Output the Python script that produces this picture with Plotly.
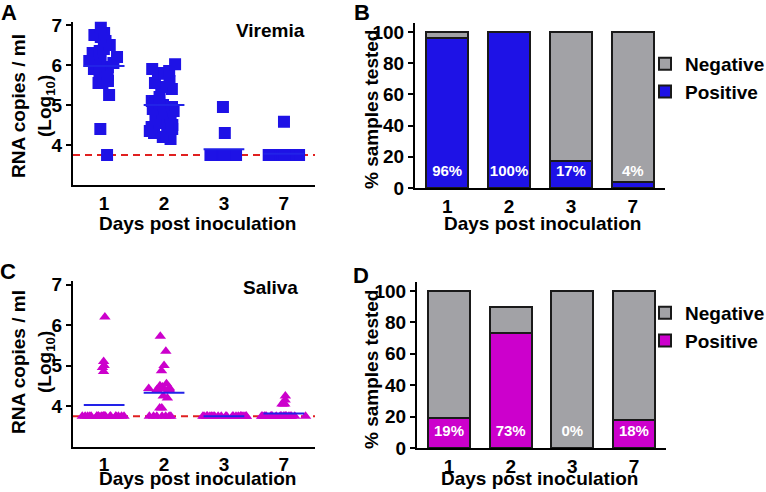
import plotly.graph_objects as go

# ---------------- data ----------------
days = ["1", "2", "3", "7"]
LOD = 3.75  # limit of detection (log10 RNA copies / ml)
log_ticks = [4, 5, 6, 7]
pct_ticks = [0, 20, 40, 60, 80, 100]

viremia_day1 = [6.95, 6.8, 6.75, 6.7, 6.6, 6.5, 6.4, 6.35, 6.3, 6.25, 6.2, 6.15, 6.1,
                6.05, 6.0, 5.95, 5.9, 5.85, 5.75, 5.7, 5.6, 5.55, 5.55, 5.25, 4.4, 3.75]
viremia_day2 = [6.02, 5.9, 5.85, 5.8, 5.78, 5.6, 5.55, 5.45, 5.4, 5.2, 5.1, 5.05, 5.0, 4.95,
                4.9, 4.85, 4.8, 4.7, 4.65, 4.55, 4.5, 4.5, 4.45, 4.4, 4.35, 4.3, 4.2, 4.15]
viremia_day3 = [4.95, 4.3] + [3.75] * 10
viremia_day7 = [4.58] + [3.75] * 24

saliva_day1 = [6.2, 5.1, 4.95, 4.85, 5.0] + [3.75] * 22
saliva_day2 = [5.72, 5.35, 5.0, 4.87, 4.55, 4.5, 4.47, 4.45, 4.45, 4.43, 4.43, 4.42, 4.42,
               4.4, 4.4, 4.25, 4.2, 3.95, 3.95] + [3.75] * 7
saliva_day3 = [3.75] * 24
saliva_day7 = [4.15, 4.05, 4.05, 4.05, 4.25] + [3.75] * 23

viremia_positive = [96, 100, 17, 4]
viremia_negative = [4, 0, 83, 96]
saliva_positive = [19, 73, 0, 18]
saliva_negative = [81, 17, 100, 82]

# ---------------- styles ----------------
W, H = 766, 492
FONT = "Liberation Sans"
BLUE = "#1e12e6"
MAGENTA = "#cc00cc"
GRAY = "#a2a2a6"
RED = "#e02020"
MEAN_BLUE = "#2222e8"


def px_x(p):
    return p / W


def px_y(p):
    return 1 - p / H


def bold(vals):
    return [f"<b>{v}</b>" for v in vals]


fig = go.Figure()


def strip(groups, xa, ya, symbol, color, size, jitter, width):
    xs, ys = [], []
    for i, g in enumerate(groups):
        xs += [i] * len(g)
        ys += list(g)
    fig.add_trace(go.Box(
        x=xs, y=ys, xaxis=xa, yaxis=ya, boxpoints="all", jitter=jitter, pointpos=0,
        width=width, fillcolor="rgba(0,0,0,0)", line=dict(width=0, color="rgba(0,0,0,0)"),
        whiskerwidth=0, marker=dict(symbol=symbol, color=color, size=size, line=dict(width=0)),
        showlegend=False, hoverinfo="y"))
    for i, g in enumerate(groups):
        m = sum(g) / len(g)
        fig.add_shape(type="line", xref=xa, yref=ya, x0=i - 0.34, x1=i + 0.34, y0=m, y1=m,
                      line=dict(color=MEAN_BLUE, width=2), layer="above")
    fig.add_shape(type="line", xref=f"{xa} domain", yref=ya, x0=0, x1=1, y0=LOD, y1=LOD,
                  line=dict(color=RED, width=2, dash="7px,5px"), layer="below")


strip([viremia_day1, viremia_day2, viremia_day3, viremia_day7], "x", "y", "square", BLUE,
      12, 0.85, 0.6)
strip([saliva_day1, saliva_day2, saliva_day3, saliva_day7], "x3", "y3", "triangle-up", MAGENTA,
      10, 1.0, 0.75)


def bars(pos, neg, xa, ya, color, legend):
    xs = list(range(len(days)))
    fig.add_trace(go.Bar(x=xs, y=pos, xaxis=xa, yaxis=ya, name="Positive", width=0.68,
                         marker=dict(color=color, line=dict(color="#1a1a1a", width=2)),
                         legend=legend, legendrank=2))
    fig.add_trace(go.Bar(x=xs, y=neg, xaxis=xa, yaxis=ya, name="Negative", width=0.68,
                         marker=dict(color=GRAY, line=dict(color="#1a1a1a", width=2)),
                         legend=legend, legendrank=1))
    fig.add_trace(go.Scatter(x=xs, y=[10] * len(xs), xaxis=xa, yaxis=ya, mode="text",
                             text=[f"<b>{v}%</b>" for v in pos], showlegend=False,
                             textfont=dict(family=FONT, size=15, color="white", weight="bold")))


bars(viremia_positive, viremia_negative, "x2", "y2", BLUE, "legend")
bars(saliva_positive, saliva_negative, "x4", "y4", MAGENTA, "legend2")

tickfont = dict(family=FONT, size=19, color="black", weight="bold")
axis_common = dict(showline=True, linecolor="black", linewidth=2, showgrid=False,
                   zeroline=False, tickfont=tickfont, fixedrange=True)
xcommon = dict(axis_common, range=[-0.52, 3.52], tickvals=list(range(len(days))),
               ticktext=bold(days), ticks="")
ycommon = dict(axis_common, ticks="outside", ticklen=5, tickwidth=2, tickcolor="black")
ylog = dict(ycommon, range=[3, 7.08], tickvals=log_ticks, ticktext=bold(log_ticks))
ypct = dict(ycommon, range=[0, 106], tickvals=pct_ticks, ticktext=bold(pct_ticks))

legend_font = dict(family=FONT, size=19, color="black", weight="bold")

fig.update_layout(
    width=W, height=H, margin=dict(l=0, r=0, t=0, b=0, pad=0, autoexpand=False),
    paper_bgcolor="white", plot_bgcolor="white", barmode="stack", bargap=0.32,
    font=dict(family=FONT, color="black"),
    xaxis=dict(xcommon, domain=[px_x(73), px_x(315)], anchor="y"),
    yaxis=dict(ylog, domain=[px_y(185), px_y(21.8)], anchor="x"),
    xaxis2=dict(xcommon, domain=[px_x(415), px_x(665)], anchor="y2"),
    yaxis2=dict(ypct, domain=[px_y(188), px_y(22.6)], anchor="x2"),
    xaxis3=dict(xcommon, domain=[px_x(73), px_x(315)], anchor="y3"),
    yaxis3=dict(ylog, domain=[px_y(446.5), px_y(281.3)], anchor="x3"),
    xaxis4=dict(xcommon, domain=[px_x(417), px_x(666)], anchor="y4"),
    yaxis4=dict(ypct, domain=[px_y(448), px_y(281.6)], anchor="x4"),
    legend=dict(x=px_x(645), y=px_y(45), xanchor="left", yanchor="top",
                traceorder="normal", font=legend_font, bgcolor="rgba(0,0,0,0)", itemclick=False),
    legend2=dict(x=px_x(645), y=px_y(294), xanchor="left", yanchor="top",
                 traceorder="normal", font=legend_font, bgcolor="rgba(0,0,0,0)", itemclick=False),
)


def label(text, x, y, size=19, angle=0):
    fig.add_annotation(text=f"<b>{text}</b>", x=px_x(x), y=px_y(y), xref="paper", yref="paper",
                       xanchor="center", yanchor="middle", showarrow=False, textangle=angle,
                       font=dict(family=FONT, size=size, color="black", weight="bold"))


# panel letters
label("A", 9, 12, 22)
label("B", 362, 12, 22)
label("C", 8, 271, 22)
label("D", 361, 275, 22)
# in-panel titles
label("Viremia", 270, 31)
label("Saliva", 270, 287)
# axis titles
for yc in (106, 362):
    label("RNA copies / ml", 18, yc, 19, -90)
    label("(Log<sub>10</sub>)", 46, yc, 19, -90)
label("% samples tested", 371, 110, 19, -90)
label("% samples tested", 371, 370, 19, -90)
label("Days post inoculation", 197, 223)
label("Days post inoculation", 542, 223)
label("Days post inoculation", 197, 478)
label("Days post inoculation", 539, 478)

fig.write_html("out.html", config={"displayModeBar": False},
               post_script="document.body.style.margin='0px';")
